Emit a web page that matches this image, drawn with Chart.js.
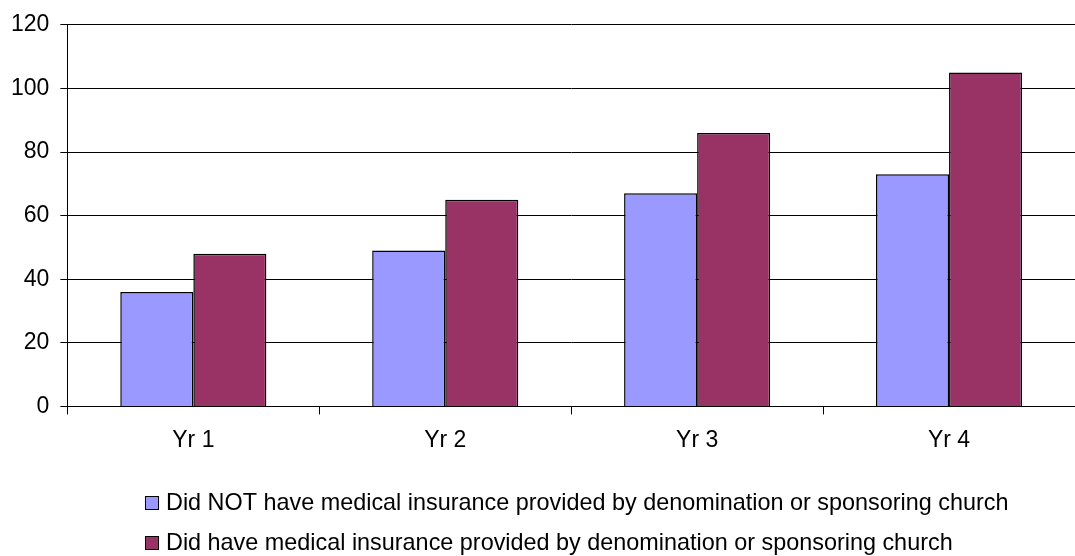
<!DOCTYPE html>
<html>
<head>
<meta charset="utf-8">
<script src="https://cdn.jsdelivr.net/npm/chart.js@4/dist/chart.umd.min.js"></script>
<style>
  html, body { margin: 0; padding: 0; background: #fff; }
  #wrap { width: 1075px; height: 556px; position: relative; }
</style>
</head>
<body>
<div id="wrap"><canvas id="barChart"></canvas></div>
<script>
const categories = ['Yr 1', 'Yr 2', 'Yr 3', 'Yr 4'];
const notInsured = [36, 49, 67, 73];
const insured = [48, 65, 86, 105];
const seriesNames = [
    'Did NOT have medical insurance provided by denomination or sponsoring church',
    'Did have medical insurance provided by denomination or sponsoring church'
];
const yTicks = [0, 20, 40, 60, 80, 100, 120];

const FONT = '"Liberation Sans", Arial, sans-serif';

// legend drawn by hand so both rows line up on the left
const leftLegend = {
    id: 'leftLegend',
    afterDraw(chart) {
        const c = chart.ctx;
        c.save();
        c.font = '23.4px ' + FONT;
        c.textBaseline = 'middle';
        chart.data.datasets.forEach((ds, i) => {
            const y = 503 + i * 40;
            c.fillStyle = ds.backgroundColor;
            c.fillRect(145.5, y - 6.5, 13, 13);
            c.strokeStyle = '#000';
            c.lineWidth = 1;
            c.strokeRect(145.5, y - 6.5, 13, 13);
            c.fillStyle = '#000';
            c.fillText(ds.label, 166, y + 1);
        });
        c.restore();
    }
};

const ctx = document.getElementById('barChart').getContext('2d');
const barChart = new Chart(ctx, {
    type: 'bar',
    data: {
        labels: categories,
        datasets: [{
            label: seriesNames[0],
            data: notInsured,
            backgroundColor: '#9999FF',
            borderColor: '#000',
            borderWidth: 1.5
        }, {
            label: seriesNames[1],
            data: insured,
            backgroundColor: '#993366',
            borderColor: '#000',
            borderWidth: 1.5
        }]
    },
    options: {
        responsive: true,
        maintainAspectRatio: false,
        animation: false,
        layout: {
            padding: { top: 11, right: 0, bottom: 90, left: 0 }
        },
        datasets: {
            bar: { categoryPercentage: 0.58, barPercentage: 1.0 }
        },
        scales: {
            x: {
                grid: {
                    offset: true,
                    drawOnChartArea: false,
                    color: '#000',
                    tickLength: 8
                },
                border: { display: true, color: '#000' },
                ticks: {
                    color: '#000',
                    font: { family: FONT, size: 23 },
                    padding: 12
                }
            },
            y: {
                min: 0,
                max: 120,
                afterBuildTicks(axis) {
                    axis.ticks = yTicks.map(v => ({ value: v }));
                },
                grid: {
                    color: '#000',
                    tickLength: 7
                },
                border: { display: true, color: '#000' },
                ticks: {
                    color: '#000',
                    font: { family: FONT, size: 23 },
                    padding: 11
                }
            }
        },
        plugins: {
            legend: { display: false },
            tooltip: { enabled: false }
        }
    },
    plugins: [leftLegend]
});
</script>
</body>
</html>
